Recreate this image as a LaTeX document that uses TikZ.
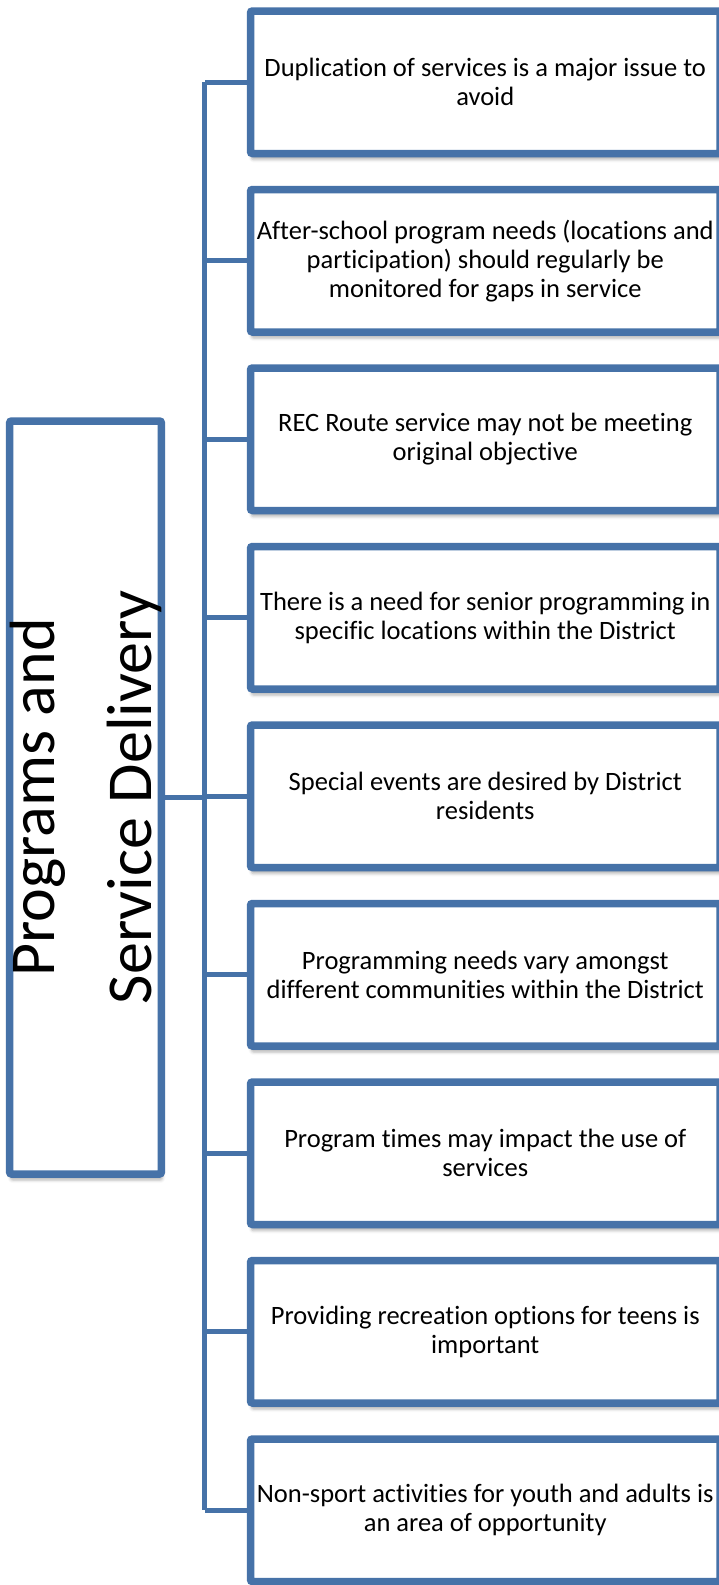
\documentclass[tikz,border=0pt]{standalone}
\usepackage{fontspec}
\setmainfont[Ligatures=NoCommon]{Carlito}
\usetikzlibrary{shadows.blur}
\definecolor{smartblue}{RGB}{70,114,168}

\begin{document}
\begin{tikzpicture}[
x=1pt, y=-1pt,
node distance=178.5pt,
leadnode/.style={rectangle, rounded corners=2pt, draw=smartblue, fill=white, line width=7.5pt, minimum width=753pt, minimum height=144pt, inner sep=0pt, align=center, font=\fontsize{64}{97}\selectfont, blur shadow={shadow xshift=1pt, shadow yshift=-6pt, shadow blur radius=3pt, shadow opacity=30}},
pointnode/.style={rectangle, rounded corners=2pt, draw=smartblue, fill=white, line width=7.5pt, minimum width=469.5pt, minimum height=142.5pt, inner sep=0pt, align=center, font=\fontsize{26.5}{29}\selectfont, blur shadow={shadow xshift=1pt, shadow yshift=-6pt, shadow blur radius=3pt, shadow opacity=30}},
link/.style={draw=smartblue, line width=5pt},
]
    \useasboundingbox (0,0) rectangle (719,1585);
    \node[leadnode, rotate=90] (lead) at (85.5,797.5) {Programs and\\Service Delivery};
    \node[pointnode] (p1) at (485.25,82.25) {Duplication of services is a major issue to\\avoid};
    \node[pointnode] (p2) [below of=p1] {After-school program needs (locations and\\participation) should regularly be\\monitored for gaps in service};
    \node[pointnode] (p3) [below of=p2] {REC Route service may not be meeting\\original objective};
    \node[pointnode] (p4) [below of=p3] {There is a need for senior programming in\\specific locations within the District};
    \node[pointnode] (p5) [below of=p4] {Special events are desired by District\\residents};
    \node[pointnode] (p6) [below of=p5] {Programming needs vary amongst\\different communities within the District};
    \node[pointnode] (p7) [below of=p6] {Program times may impact the use of\\services};
    \node[pointnode] (p8) [below of=p7] {Providing recreation options for teens is\\important};
    \node[pointnode] (p9) [below of=p8] {Non-sport activities for youth and adults is\\an area of opportunity};
    \coordinate (trunktop) at (204.5,82.25);
    \coordinate (trunkbot) at (204.5,1510.25);
    \draw[link] (trunktop) -- (trunkbot);
    \draw[link] (lead.south) -- (lead.south -| trunktop);
    \draw[link] (p1.west) -- (p1.west -| trunktop);
    \draw[link] (p2.west) -- (p2.west -| trunktop);
    \draw[link] (p3.west) -- (p3.west -| trunktop);
    \draw[link] (p4.west) -- (p4.west -| trunktop);
    \draw[link] (p5.west) -- (p5.west -| trunktop);
    \draw[link] (p6.west) -- (p6.west -| trunktop);
    \draw[link] (p7.west) -- (p7.west -| trunktop);
    \draw[link] (p8.west) -- (p8.west -| trunktop);
    \draw[link] (p9.west) -- (p9.west -| trunktop);
  \end{tikzpicture}
\end{document}
